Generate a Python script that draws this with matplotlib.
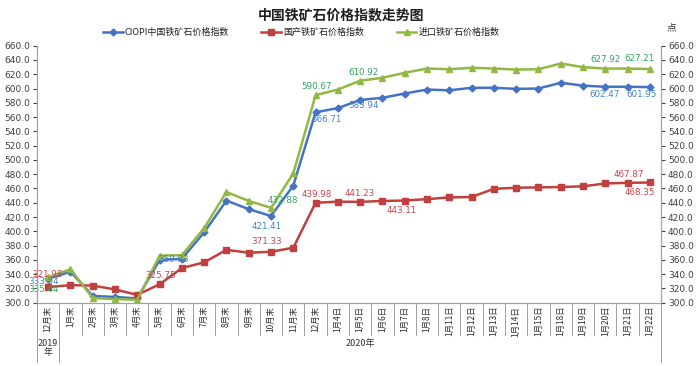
import matplotlib
matplotlib.use("Agg")
import matplotlib.pyplot as plt
import numpy as np

plt.rcParams['font.family'] = ['Noto Sans CJK SC', 'DejaVu Sans']

# 数据
categories = ['12月末', '1月末', '2月末', '3月末', '4月末', '5月末', '6月末', '7月末',
              '8月末', '9月末', '10月末', '11月末', '12月末', '1月4日', '1月5日', '1月6日',
              '1月7日', '1月8日', '1月11日', '1月12日', '1月13日', '1月14日', '1月15日',
              '1月18日', '1月19日', '1月20日', '1月21日', '1月22日']
year_groups = [('2019\n年', 0, 0), ('2020年', 1, 27)]

ciopi = [333.54, 343.5, 309.5, 308.0, 306.0, 359.83, 361.5, 398.5, 443.0, 431.0,
         421.41, 464.0, 566.71, 572.5, 583.94, 587.0, 593.0, 598.5, 597.5, 601.0,
         601.0, 599.5, 600.0, 608.0, 604.0, 602.47, 602.5, 601.95]
domestic = [321.98, 324.5, 324.0, 318.5, 311.0, 325.75, 348.5, 356.5, 374.0, 370.0,
            371.33, 377.0, 439.98, 441.5, 441.23, 442.5, 443.11, 445.0, 447.5, 448.0,
            459.5, 461.0, 461.5, 462.0, 463.0, 467.0, 467.87, 468.35]
imported = [335.44, 347.0, 306.5, 305.0, 304.0, 366.0, 366.5, 404.5, 455.0, 442.5,
            432.88, 481.0, 590.67, 598.5, 610.92, 615.0, 622.0, 628.0, 627.0, 629.0,
            628.0, 626.5, 627.0, 635.0, 630.0, 627.92, 628.0, 627.21]

series_names = ['CIOPI中国铁矿石价格指数', '国产铁矿石价格指数', '进口铁矿石价格指数']

# 数据标签: 索引 -> 偏移(像素)
ciopi_lbl = {0: (-5, -3), 5: (14, 0), 10: (-4, -10), 12: (11, -7), 14: (3, -6),
             25: (-1, -8), 27: (-8, -7)}
domestic_lbl = {0: (-1, 12), 5: (1, 9), 10: (-4, 10), 12: (1, 8), 14: (0, 8),
                16: (-3, -10), 26: (1, 8), 27: (-10, -10)}
imported_lbl = {0: (-5, -12), 10: (12, 7), 12: (1, 9), 14: (3, 8), 25: (0, 9),
                27: (-10, 11)}

fig = plt.figure(figsize=(6.97, 3.66), dpi=100)
ax = fig.add_axes([0.0531, 0.1730, 0.8953, 0.7022])
x = np.arange(len(categories))

l1, = ax.plot(x, ciopi, color='#4472c4', lw=1.8, marker='D', ms=3.5, zorder=3)
l2, = ax.plot(x, domestic, color='#c0403f', lw=1.8, marker='s', ms=5, zorder=4)
l3, = ax.plot(x, imported, color='#92b844', lw=1.8, marker='^', ms=5, zorder=5)

for vals, lbls, col in [(ciopi, ciopi_lbl, '#3d86c6'),
                        (domestic, domestic_lbl, '#c9444a'),
                        (imported, imported_lbl, '#2fa85e')]:
    for i, (dx, dy) in lbls.items():
        ax.annotate(f'{vals[i]:.2f}', (x[i], vals[i]), xytext=(dx, dy),
                    textcoords='offset pixels', ha='center', va='center',
                    fontsize=6.3, color=col, zorder=6, family='DejaVu Sans')

ax.set_xlim(-0.5, len(categories) - 0.5)
ax.set_ylim(300, 660)
ax.set_yticks(np.arange(300, 661, 20))
ax.yaxis.set_major_formatter(matplotlib.ticker.FormatStrFormatter('%.1f'))
ax.tick_params(axis='y', labelsize=6.5, length=3, pad=2, colors='#404040',
               labelfontfamily='DejaVu Sans')
ax.set_xticks([])
ax.spines['top'].set_visible(False)
for s in ['left', 'right', 'bottom']:
    ax.spines[s].set_color('#a0a0a0')
    ax.spines[s].set_linewidth(0.8)

ax2 = ax.twinx()
ax2.set_ylim(ax.get_ylim())
ax2.set_yticks(np.arange(300, 661, 20))
ax2.yaxis.set_major_formatter(matplotlib.ticker.FormatStrFormatter('%.1f'))
ax2.tick_params(axis='y', labelsize=6.5, length=3, pad=2, colors='#404040',
                labelfontfamily='DejaVu Sans')
ax2.spines['top'].set_visible(False)
for s in ['left', 'right', 'bottom']:
    ax2.spines[s].set_color('#a0a0a0')
    ax2.spines[s].set_linewidth(0.8)

# 多级分类轴
trans = matplotlib.transforms.blended_transform_factory(ax.transData, ax.transAxes)
for i, c in enumerate(categories):
    ax.text(i, -0.012, c, transform=trans, rotation=90, ha='center', va='top',
            fontsize=6, color='#303030')
for i in range(len(categories) + 1):
    ax.plot([i - 0.5, i - 0.5], [0, -0.127], transform=trans, color='#a0a0a0',
            lw=0.7, clip_on=False)
for name, a, b in year_groups:
    ax.plot([a - 0.5, a - 0.5], [0, -0.23], transform=trans, color='#a0a0a0',
            lw=0.7, clip_on=False)
    ax.plot([b + 0.5, b + 0.5], [0, -0.23], transform=trans, color='#a0a0a0',
            lw=0.7, clip_on=False)
    ax.text((a + b) / 2, -0.14, name, transform=trans, ha='center', va='top',
            fontsize=6.5, color='#303030', linespacing=1.1)

fig.text(0.49, 0.958, '中国铁矿石价格指数走势图', ha='center', va='center',
         fontsize=10, fontweight='bold', color='#202020')
fig.text(0.964, 0.925, '点', ha='center', va='center', fontsize=7, color='#303030')

fig.legend([l1, l2, l3], series_names, loc='center', bbox_to_anchor=(0.432, 0.912),
           ncol=3, frameon=False, fontsize=6.5, handlelength=2.2, handletextpad=0.2,
           columnspacing=3.6, labelcolor='#202020')

fig.savefig('out.png', dpi=100)
